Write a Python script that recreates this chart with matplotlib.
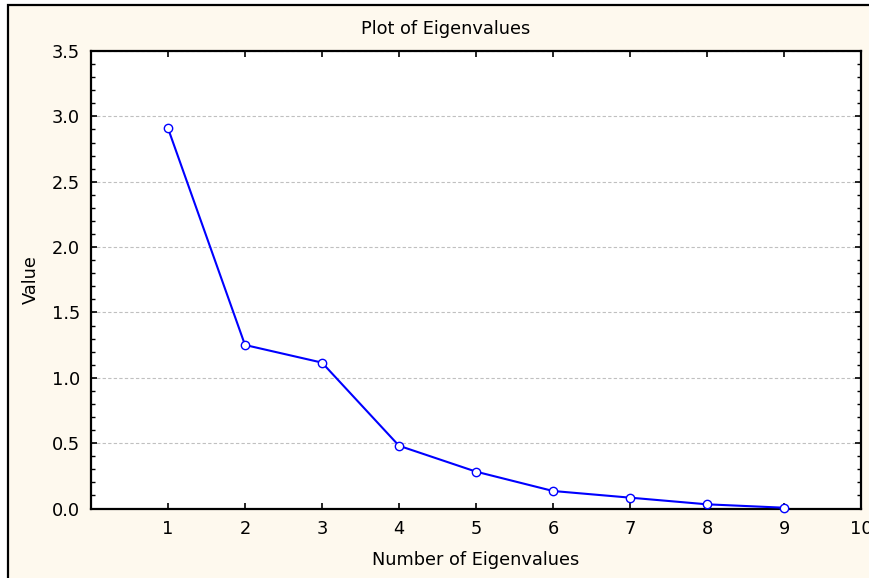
import matplotlib
matplotlib.use("Agg")
import matplotlib.pyplot as plt
from matplotlib.patches import Rectangle
from matplotlib.ticker import MultipleLocator

# eigenvalues
eig_number = [1, 2, 3, 4, 5, 6, 7, 8, 9]
eig_value = [2.909, 1.251, 1.116, 0.480, 0.282, 0.134, 0.083, 0.032, 0.006]
x_ticks = [1, 2, 3, 4, 5, 6, 7, 8, 9, 10]
y_ticks = [0.0, 0.5, 1.0, 1.5, 2.0, 2.5, 3.0, 3.5]

# the reference text is wide for its height, DejaVu is the closest match
plt.rcParams['font.family'] = ['DejaVu Sans']
FS = 12.8

W, H = 870, 578
fig = plt.figure(figsize=(W / 100, H / 100), dpi=100)
fig.patch.set_facecolor('white')

# cream panel with black frame, running off the right/bottom edge
fig.add_artist(Rectangle((8 / W, -0.05), 1.1, 1 - 5 / H + 0.05,
                         transform=fig.transFigure, facecolor='#fef9ee',
                         edgecolor='black', linewidth=1.6, zorder=-10))

ax = fig.add_axes([91 / W, 1 - 508.5 / H, (861 - 91) / W, (508.5 - 51) / H])
ax.set_facecolor('white')

ax.plot(eig_number, eig_value, color='#0000ff', linewidth=1.5,
        marker='o', markersize=6, markerfacecolor='white',
        markeredgecolor='#0000ff', markeredgewidth=1.0, clip_on=False, zorder=3)

ax.set_xlim(0, 10)
ax.set_ylim(0, 3.5)
ax.set_xticks(x_ticks)
ax.set_yticks(y_ticks)
ax.set_yticklabels([f"{v:.1f}" for v in y_ticks])
ax.yaxis.set_minor_locator(MultipleLocator(0.1))

ax.tick_params(axis='both', which='major', direction='in', length=4, width=1.2,
               top=True, right=True, labelsize=FS, colors='black')
ax.tick_params(axis='x', pad=8.5)
ax.tick_params(axis='y', pad=8)
ax.tick_params(axis='y', which='minor', direction='in', length=3, width=1.0,
               left=True, right=True)

for s in ax.spines.values():
    s.set_linewidth(1.6)
    s.set_color('black')

ax.grid(axis='y', which='major', linestyle=(0, (3, 2)), color='#c0c0c0', linewidth=0.8)
ax.set_axisbelow(True)

fig.text(446 / W, 1 - 34.3 / H, "Plot of Eigenvalues", ha='center', va='baseline', fontsize=FS)
fig.text(476 / W, 1 - 565 / H, "Number of Eigenvalues", ha='center', va='baseline', fontsize=FS)
fig.text(31 / W, 1 - 280 / H, "Value", ha='center', va='center', rotation=90, fontsize=FS)

fig.savefig("out.png", dpi=100, facecolor=fig.get_facecolor())
